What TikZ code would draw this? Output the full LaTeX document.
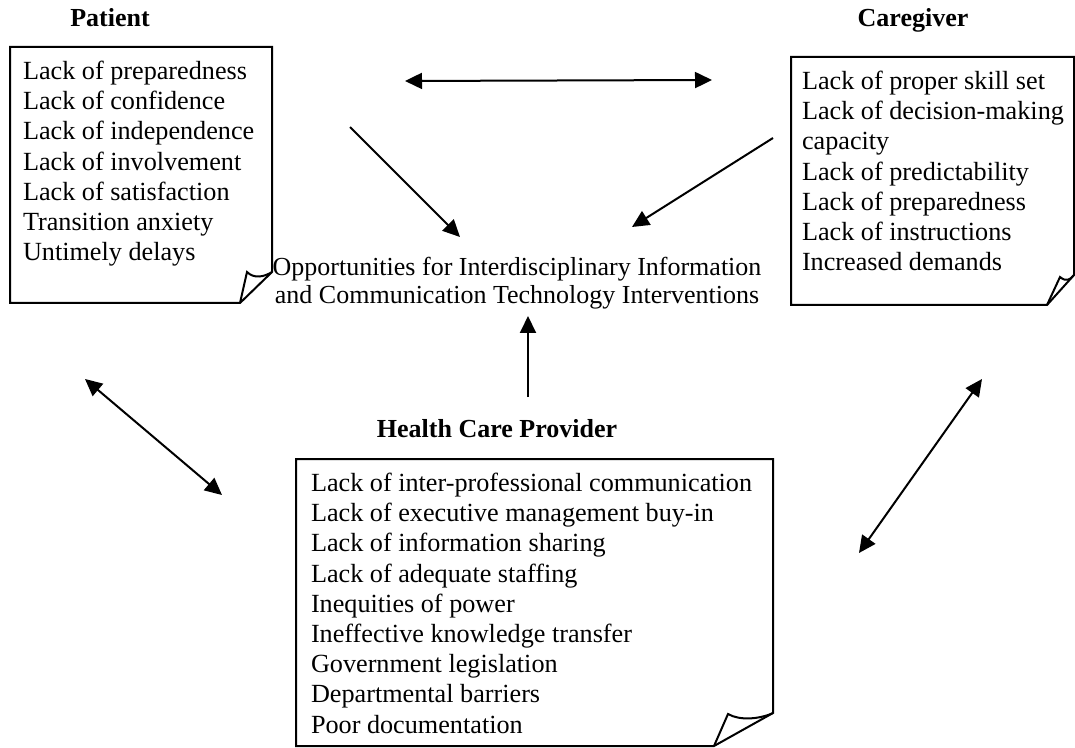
\documentclass[tikz,border=0pt]{standalone}
\usepackage{fontspec}
\setmainfont{Liberation Serif}
\usetikzlibrary{arrows.meta}
\begin{document}
\begin{tikzpicture}[x=0.5pt,y=-0.5pt,
  every node/.style={inner sep=0pt, outer sep=0pt},
  list/.style={anchor=north west, align=left, font=\fontsize{13.1}{15.1}\selectfont},
  hub/.style={anchor=north, align=center, font=\fontsize{13}{14}\selectfont},
  heading/.style={anchor=base, font=\fontsize{13}{15}\selectfont\bfseries},
  page/.style={line width=1pt, line join=miter},
  link/.style={line width=1pt, -{Triangle[length=8.5pt,width=8pt]}},
  both/.style={line width=1pt, {Triangle[length=8.5pt,width=8pt]}-{Triangle[length=8.5pt,width=8pt]}}]
\useasboundingbox (0,0) rectangle (1075,748);

% sheets with a turned-down corner
\draw[page] (272,272) -- (272,47) -- (10,47) -- (10,303) -- (240,303) -- cycle;
\draw[page] (240,303) -- (247,272) .. controls (254,279) and (264,277) .. (272,272);

\draw[page] (1074,275) -- (1074,57) -- (791,57) -- (791,305) -- (1047,305) -- cycle;
\draw[page] (1047,305) -- (1060,277) .. controls (1066,282) and (1070,280) .. (1074,275);

\draw[page] (773,713) -- (773,459) -- (296,459) -- (296,746) -- (714,746) -- cycle;
\draw[page] (714,746) -- (728,714) .. controls (740,721) and (760,719) .. (773,713);

% headings
\node[heading] (tpat) at (110,27) {Patient};
\node[heading] (tcare) at (913,27) {Caregiver};
\node[heading] (thcp) at (497,437) {Health Care Provider};

% lists of barriers
\node[list] (lpat) at (23,61) {Lack of preparedness\\Lack of confidence\\Lack of independence\\Lack of involvement\\Lack of satisfaction\\Transition anxiety\\Untimely delays};
\node[list] (lcare) at (802,71) {Lack of proper skill set\\Lack of decision-making\\capacity\\Lack of predictability\\Lack of preparedness\\Lack of instructions\\Increased demands};
\node[list] (lhcp) at (311,473) {Lack of inter-professional communication\\Lack of executive management buy-in\\Lack of information sharing\\Lack of adequate staffing\\Inequities of power\\Ineffective knowledge transfer\\Government legislation\\Departmental barriers\\Poor documentation};

% central statement
\node[hub] (ict) at (517,257) {Opportunities for Interdisciplinary Information\\and Communication Technology Interventions};

% arrow end points
\coordinate (pc1) at (405,81);
\coordinate (pc2) at (712,80);
\coordinate (pi1) at (350,127);
\coordinate (pi2) at (460,237);
\coordinate (ci1) at (773,138);
\coordinate (ci2) at (632,227);
\coordinate (hi1) at (528,397);
\coordinate (hi2) at (528,316);
\coordinate (ph1) at (85,379);
\coordinate (ph2) at (222,495);
\coordinate (ch1) at (982,379);
\coordinate (ch2) at (859,553);

\draw[both] (pc1) -- (pc2);
\draw[link] (pi1) -- (pi2);
\draw[link] (ci1) -- (ci2);
\draw[link] (hi1) -- (hi2);
\draw[both] (ph1) -- (ph2);
\draw[both] (ch1) -- (ch2);
\end{tikzpicture}
\end{document}
